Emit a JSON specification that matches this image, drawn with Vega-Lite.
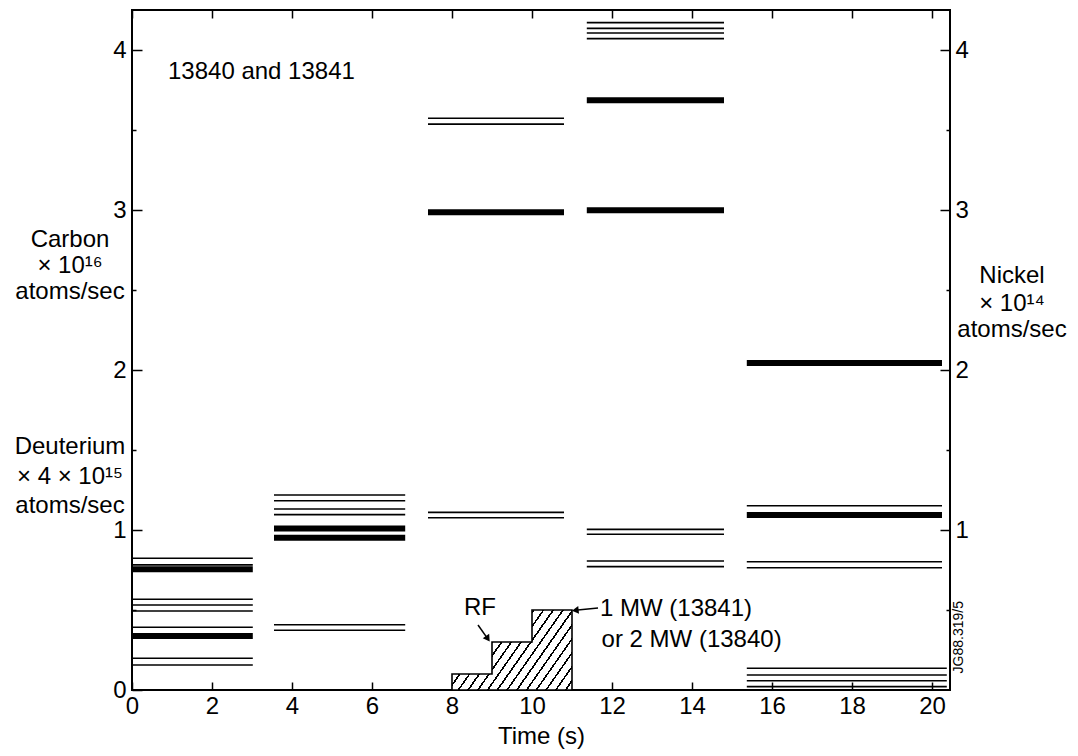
{
  "$schema": "https://vega.github.io/schema/vega-lite/v6.json",
  "width": 818,
  "height": 680,
  "autosize": {"type": "none"},
  "padding": {"left": 132, "top": 10, "right": 128, "bottom": 66},
  "background": "white",
  "config": {
    "view": {"stroke": "black", "strokeWidth": 2},
    "axis": {"labelFont": "Liberation Sans", "titleFont": "Liberation Sans", "labelColor": "black", "titleColor": "black", "tickColor": "black", "tickWidth": 1.5, "grid": false, "domain": false},
    "text": {"font": "Liberation Sans", "fontSize": 24, "color": "black"}
  },
  "datasets": {
    "lines": [
      {"x0": 0, "x1": 3.02, "y": 0.823, "kind": "thin"},
      {"x0": 0, "x1": 3.02, "y": 0.782, "kind": "thin"},
      {"x0": 0, "x1": 3.02, "y": 0.755, "kind": "thick"},
      {"x0": 0, "x1": 3.02, "y": 0.567, "kind": "thin"},
      {"x0": 0, "x1": 3.02, "y": 0.531, "kind": "thin"},
      {"x0": 0, "x1": 3.02, "y": 0.494, "kind": "thin"},
      {"x0": 0, "x1": 3.02, "y": 0.392, "kind": "thin"},
      {"x0": 0, "x1": 3.02, "y": 0.338, "kind": "thick"},
      {"x0": 0, "x1": 3.02, "y": 0.198, "kind": "thin"},
      {"x0": 0, "x1": 3.02, "y": 0.156, "kind": "thin"},
      {"x0": 3.55, "x1": 6.83, "y": 1.219, "kind": "thin"},
      {"x0": 3.55, "x1": 6.83, "y": 1.183, "kind": "thin"},
      {"x0": 3.55, "x1": 6.83, "y": 1.131, "kind": "thin"},
      {"x0": 3.55, "x1": 6.83, "y": 1.096, "kind": "thin"},
      {"x0": 3.55, "x1": 6.83, "y": 1.01, "kind": "thick"},
      {"x0": 3.55, "x1": 6.83, "y": 0.951, "kind": "thick"},
      {"x0": 3.55, "x1": 6.83, "y": 0.408, "kind": "thin"},
      {"x0": 3.55, "x1": 6.83, "y": 0.373, "kind": "thin"},
      {"x0": 7.4, "x1": 10.8, "y": 3.573, "kind": "thin"},
      {"x0": 7.4, "x1": 10.8, "y": 3.537, "kind": "thin"},
      {"x0": 7.4, "x1": 10.8, "y": 2.986, "kind": "thick"},
      {"x0": 7.4, "x1": 10.8, "y": 1.11, "kind": "thin"},
      {"x0": 7.4, "x1": 10.8, "y": 1.077, "kind": "thin"},
      {"x0": 11.37, "x1": 14.8, "y": 4.171, "kind": "thin"},
      {"x0": 11.37, "x1": 14.8, "y": 4.135, "kind": "thin"},
      {"x0": 11.37, "x1": 14.8, "y": 4.106, "kind": "thin"},
      {"x0": 11.37, "x1": 14.8, "y": 4.071, "kind": "thin"},
      {"x0": 11.37, "x1": 14.8, "y": 3.686, "kind": "thick"},
      {"x0": 11.37, "x1": 14.8, "y": 2.999, "kind": "thick"},
      {"x0": 11.37, "x1": 14.8, "y": 1.004, "kind": "thin"},
      {"x0": 11.37, "x1": 14.8, "y": 0.973, "kind": "thin"},
      {"x0": 11.37, "x1": 14.8, "y": 0.806, "kind": "thin"},
      {"x0": 11.37, "x1": 14.8, "y": 0.771, "kind": "thin"},
      {"x0": 15.37, "x1": 20.25, "y": 2.044, "kind": "thick"},
      {"x0": 15.37, "x1": 20.25, "y": 1.152, "kind": "thin"},
      {"x0": 15.37, "x1": 20.25, "y": 1.094, "kind": "thick"},
      {"x0": 15.37, "x1": 20.25, "y": 0.802, "kind": "thin"},
      {"x0": 15.37, "x1": 20.25, "y": 0.764, "kind": "thin"},
      {"x0": 15.37, "x1": 20.37, "y": 0.136, "kind": "thin"},
      {"x0": 15.37, "x1": 20.37, "y": 0.094, "kind": "thin"},
      {"x0": 15.37, "x1": 20.37, "y": 0.058, "kind": "thin"},
      {"x0": 15.37, "x1": 20.37, "y": 0.021, "kind": "thin"}
    ],
    "rf": [
      {"t": 8, "p": 0.1},
      {"t": 9, "p": 0.3},
      {"t": 10, "p": 0.5},
      {"t": 11, "p": 0.5}
    ],
    "arrows": [
      {"x": 8.65, "y": 0.406, "x2": 8.9, "y2": 0.318},
      {"x": 11.65, "y": 0.5125, "x2": 11.08, "y2": 0.499}
    ],
    "centered": [
      {"text": "Carbon", "x": -1.55, "y": 2.81},
      {"text": "× 10¹⁶", "x": -1.55, "y": 2.65},
      {"text": "atoms/sec", "x": -1.55, "y": 2.485},
      {"text": "Deuterium", "x": -1.55, "y": 1.52},
      {"text": "× 4 × 10¹⁵", "x": -1.55, "y": 1.33},
      {"text": "atoms/sec", "x": -1.55, "y": 1.15},
      {"text": "Nickel", "x": 22.0, "y": 2.585},
      {"text": "× 10¹⁴", "x": 22.0, "y": 2.41},
      {"text": "atoms/sec", "x": 22.0, "y": 2.25},
      {"text": "RF", "x": 8.7, "y": 0.5125}
    ],
    "lefttext": [
      {"text": "13840 and 13841", "x": 0.9, "y": 3.86},
      {"text": "1 MW (13841)", "x": 11.7, "y": 0.506},
      {"text": "or 2 MW (13840)", "x": 11.74, "y": 0.3125}
    ]
  },
  "resolve": {"scale": {"x": "shared", "y": "shared"}, "axis": {"x": "independent", "y": "independent"}},
  "layer": [
    {
      "data": {"name": "lines"},
      "mark": {"type": "rule", "color": "black", "strokeCap": "butt"},
      "encoding": {
        "x": {"field": "x0", "type": "quantitative", "scale": {"domain": [0, 20.45], "nice": false, "zero": false},
          "axis": {"orient": "bottom", "values": [0, 2, 4, 6, 8, 10, 12, 14, 16, 18, 20], "format": "d", "tickSize": -8, "labelFont": "Liberation Sans Narrow, Liberation Sans, sans-serif", "labelFontSize": 24, "labelPadding": 12, "labelFlush": false, "title": "Time (s)", "titleFont": "Liberation Sans Narrow, Liberation Sans, sans-serif", "titleFontSize": 24, "titleFontWeight": "normal", "titlePadding": 6}},
        "x2": {"field": "x1"},
        "y": {"field": "y", "type": "quantitative", "scale": {"domain": [0, 4.25], "nice": false, "zero": false},
          "axis": {"orient": "left", "values": [0, 1, 2, 3, 4], "format": "d", "tickSize": -10, "labelFontSize": 24, "labelPadding": 16, "title": null}},
        "strokeWidth": {"field": "kind", "type": "nominal", "scale": {"domain": ["thin", "thick"], "range": [1.6, 6]}, "legend": null}
      }
    },
    {
      "data": {"name": "rf"},
      "mark": {"type": "area", "interpolate": "step-after", "stroke": "black", "strokeWidth": 1.6,
        "fill": {"gradient": "linear", "x1": 0, "y1": 0, "x2": 1.2, "y2": 0.56, "stops": [
          {"offset": 0, "color": "white"},
          {"offset": 0.0167, "color": "white"}, {"offset": 0.0167, "color": "black"}, {"offset": 0.0277, "color": "black"}, {"offset": 0.0277, "color": "white"},
          {"offset": 0.0722, "color": "white"}, {"offset": 0.0722, "color": "black"}, {"offset": 0.0832, "color": "black"}, {"offset": 0.0832, "color": "white"},
          {"offset": 0.1278, "color": "white"}, {"offset": 0.1278, "color": "black"}, {"offset": 0.1388, "color": "black"}, {"offset": 0.1388, "color": "white"},
          {"offset": 0.1833, "color": "white"}, {"offset": 0.1833, "color": "black"}, {"offset": 0.1943, "color": "black"}, {"offset": 0.1943, "color": "white"},
          {"offset": 0.2389, "color": "white"}, {"offset": 0.2389, "color": "black"}, {"offset": 0.2499, "color": "black"}, {"offset": 0.2499, "color": "white"},
          {"offset": 0.2944, "color": "white"}, {"offset": 0.2944, "color": "black"}, {"offset": 0.3054, "color": "black"}, {"offset": 0.3054, "color": "white"},
          {"offset": 0.35, "color": "white"}, {"offset": 0.35, "color": "black"}, {"offset": 0.361, "color": "black"}, {"offset": 0.361, "color": "white"},
          {"offset": 0.4056, "color": "white"}, {"offset": 0.4056, "color": "black"}, {"offset": 0.4166, "color": "black"}, {"offset": 0.4166, "color": "white"},
          {"offset": 0.4611, "color": "white"}, {"offset": 0.4611, "color": "black"}, {"offset": 0.4721, "color": "black"}, {"offset": 0.4721, "color": "white"},
          {"offset": 0.5167, "color": "white"}, {"offset": 0.5167, "color": "black"}, {"offset": 0.5277, "color": "black"}, {"offset": 0.5277, "color": "white"},
          {"offset": 0.5722, "color": "white"}, {"offset": 0.5722, "color": "black"}, {"offset": 0.5832, "color": "black"}, {"offset": 0.5832, "color": "white"},
          {"offset": 0.6278, "color": "white"}, {"offset": 0.6278, "color": "black"}, {"offset": 0.6388, "color": "black"}, {"offset": 0.6388, "color": "white"},
          {"offset": 0.6833, "color": "white"}, {"offset": 0.6833, "color": "black"}, {"offset": 0.6943, "color": "black"}, {"offset": 0.6943, "color": "white"},
          {"offset": 0.7389, "color": "white"}, {"offset": 0.7389, "color": "black"}, {"offset": 0.7499, "color": "black"}, {"offset": 0.7499, "color": "white"},
          {"offset": 0.7944, "color": "white"}, {"offset": 0.7944, "color": "black"}, {"offset": 0.8054, "color": "black"}, {"offset": 0.8054, "color": "white"},
          {"offset": 0.85, "color": "white"}, {"offset": 0.85, "color": "black"}, {"offset": 0.861, "color": "black"}, {"offset": 0.861, "color": "white"},
          {"offset": 0.9056, "color": "white"}, {"offset": 0.9056, "color": "black"}, {"offset": 0.9166, "color": "black"}, {"offset": 0.9166, "color": "white"},
          {"offset": 0.9611, "color": "white"}, {"offset": 0.9611, "color": "black"}, {"offset": 0.9721, "color": "black"}, {"offset": 0.9721, "color": "white"},
          {"offset": 1, "color": "white"}
        ]}},
      "encoding": {
        "x": {"field": "t", "type": "quantitative", "scale": {"domain": [0, 20.45], "nice": false, "zero": false},
          "axis": {"orient": "top", "values": [0, 2, 4, 6, 8, 10, 12, 14, 16, 18, 20], "tickSize": -8, "labels": false, "title": null}},
        "y": {"field": "p", "type": "quantitative", "scale": {"domain": [0, 4.25], "nice": false, "zero": false},
          "axis": {"orient": "right", "values": [1, 2, 3, 4], "format": "d", "tickSize": -10, "labelFontSize": 24, "labelPadding": 15, "title": null}}
      }
    },
    {
      "data": {"name": "arrows"},
      "mark": {"type": "rule", "color": "black", "strokeWidth": 1.5},
      "encoding": {
        "x": {"field": "x", "type": "quantitative", "scale": {"domain": [0, 20.45], "nice": false, "zero": false}, "axis": null},
        "y": {"field": "y", "type": "quantitative", "scale": {"domain": [0, 4.25], "nice": false, "zero": false},
          "axis": {"orient": "left", "values": [0.5, 1.5, 2.5, 3.5], "tickSize": -4, "labels": false, "title": null}},
        "x2": {"field": "x2"},
        "y2": {"field": "y2"}
      }
    },
    {
      "data": {"values": [{"x": 8.88, "y": 0.326}]},
      "mark": {"type": "point", "shape": "triangle", "filled": true, "color": "black", "opacity": 1, "size": 60, "angle": 146},
      "encoding": {
        "x": {"field": "x", "type": "quantitative", "scale": {"domain": [0, 20.45], "nice": false, "zero": false}, "axis": null},
        "y": {"field": "y", "type": "quantitative", "scale": {"domain": [0, 4.25], "nice": false, "zero": false},
          "axis": {"orient": "right", "values": [0.5, 1.5, 2.5, 3.5], "tickSize": -4, "labels": false, "title": null}}
      }
    },
    {
      "data": {"values": [{"x": 11.11, "y": 0.499}]},
      "mark": {"type": "point", "shape": "triangle", "filled": true, "color": "black", "opacity": 1, "size": 60, "angle": 264},
      "encoding": {
        "x": {"field": "x", "type": "quantitative", "scale": {"domain": [0, 20.45], "nice": false, "zero": false}, "axis": null},
        "y": {"field": "y", "type": "quantitative", "scale": {"domain": [0, 4.25], "nice": false, "zero": false}, "axis": null}
      }
    },
    {
      "data": {"name": "centered"},
      "mark": {"type": "text", "align": "center", "baseline": "middle"},
      "encoding": {
        "x": {"field": "x", "type": "quantitative", "scale": {"domain": [0, 20.45], "nice": false, "zero": false}, "axis": null},
        "y": {"field": "y", "type": "quantitative", "scale": {"domain": [0, 4.25], "nice": false, "zero": false}, "axis": null},
        "text": {"field": "text"}
      }
    },
    {
      "data": {"name": "lefttext"},
      "mark": {"type": "text", "align": "left", "baseline": "middle"},
      "encoding": {
        "x": {"field": "x", "type": "quantitative", "scale": {"domain": [0, 20.45], "nice": false, "zero": false}, "axis": null},
        "y": {"field": "y", "type": "quantitative", "scale": {"domain": [0, 4.25], "nice": false, "zero": false}, "axis": null},
        "text": {"field": "text"}
      }
    },
    {
      "data": {"values": [{"text": "JG88.319/5", "x": 20.68, "y": 0.33}]},
      "mark": {"type": "text", "align": "center", "baseline": "middle", "angle": 270, "fontSize": 14},
      "encoding": {
        "x": {"field": "x", "type": "quantitative", "scale": {"domain": [0, 20.45], "nice": false, "zero": false}, "axis": null},
        "y": {"field": "y", "type": "quantitative", "scale": {"domain": [0, 4.25], "nice": false, "zero": false}, "axis": null},
        "text": {"field": "text"}
      }
    }
  ]
}
